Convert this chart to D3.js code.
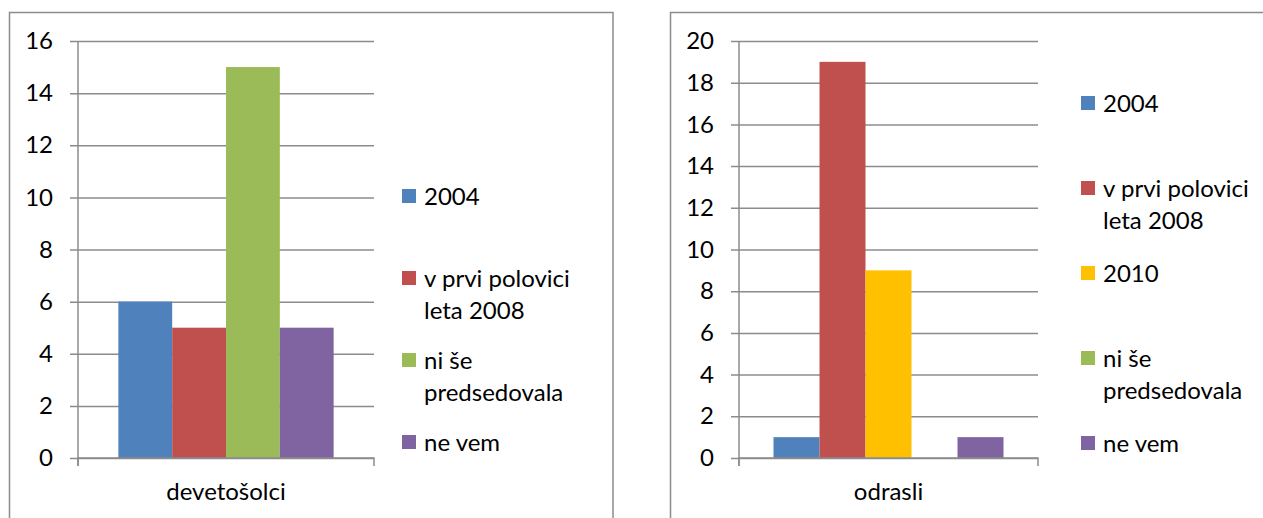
<!DOCTYPE html>
<html><head><meta charset="utf-8">
<script src="https://cdn.jsdelivr.net/npm/d3@7"></script>
<style>
html,body{margin:0;padding:0;background:#fff;}
svg{display:block;font-family:Lato, "Open Sans", sans-serif;}
</style></head>
<body>
<svg id="c" width="1263" height="518"></svg>
<script>
// ---- data ----
const leftCategory = ["devetošolci"];
const leftSeries = ["2004", "v prvi polovici|leta 2008", "ni še|predsedovala", "ne vem"];
const leftValues = [6, 5, 15, 5];
const leftColors = ["#4F81BD", "#C0504D", "#9BBB59", "#8064A2"];
const leftTicks = [0, 2, 4, 6, 8, 10, 12, 14, 16];

const rightCategory = ["odrasli"];
const rightSeries = ["2004", "v prvi polovici|leta 2008", "2010", "ni še|predsedovala", "ne vem"];
const rightValues = [1, 19, 9, 0, 1];
const rightColors = ["#4F81BD", "#C0504D", "#FFC000", "#9BBB59", "#8064A2"];
const rightTicks = [0, 2, 4, 6, 8, 10, 12, 14, 16, 18, 20];

const svg = d3.select("#c");
const FS = 24;

function drawChart(o) {
  const g = svg.append("g");
  // frame
  g.append("rect").attr("x", o.frame[0]).attr("y", o.frame[1])
    .attr("width", o.frame[2]).attr("height", o.frame[3])
    .attr("fill", "none").attr("stroke", "#8c8c8c").attr("stroke-width", 1.5);

  const y = d3.scaleLinear().domain([0, d3.max(o.ticks)]).range([o.y0, o.y1]);
  const x0 = d3.scaleBand().domain(o.category).range([o.x0, o.x1]).paddingInner(0).paddingOuter(0);
  const bandW = x0.bandwidth();
  const n = o.series.length;
  const barW = bandW / (n + o.gap);
  const x1 = d3.scaleBand().domain(o.series).range([0, barW * n]);

  // gridlines + y ticks
  const yAxis = d3.axisLeft(y).tickValues(o.ticks).tickSize(-(o.x1 - o.x0)).tickSizeOuter(0).tickPadding(25);
  const ya = g.append("g").attr("transform", `translate(${o.x0},0)`).call(yAxis);
  ya.select(".domain").remove();
  ya.selectAll(".tick line").attr("stroke", "#8c8c8c").attr("stroke-width", 1.5).attr("x1", -8);
  ya.selectAll(".tick text").attr("font-size", FS).attr("fill", "#000").attr("font-family", "Lato");

  // bars
  const bars = g.append("g").attr("transform", `translate(${x0(o.category[0]) + barW * o.gap / 2},0)`);
  bars.selectAll("rect").data(o.values).join("rect")
    .attr("x", (d, i) => x1(o.series[i]))
    .attr("width", x1.bandwidth())
    .attr("y", d => y(d))
    .attr("height", d => y(0) - y(d))
    .attr("fill", (d, i) => o.colors[i]);

  // y axis line
  g.append("line").attr("x1", o.x0).attr("x2", o.x0).attr("y1", o.y1).attr("y2", o.y0 + 8)
    .attr("stroke", "#8c8c8c").attr("stroke-width", 1.5);
  // x axis
  const xAxis = d3.axisBottom(x0).tickSize(0).tickPadding(25);
  const xa = g.append("g").attr("transform", `translate(0,${o.y0})`).call(xAxis);
  xa.select(".domain").attr("stroke", "#8c8c8c").attr("stroke-width", 1.5)
    .attr("d", `M${o.x0},8V0H${o.x1}V8`);
  xa.selectAll(".tick text").attr("font-size", FS).attr("fill", "#000").attr("font-family", "Lato");

  // legend
  const ly = d3.scalePoint().domain(o.series).range(o.legendY);
  const leg = g.append("g");
  o.series.forEach((s, i) => {
    const cy = ly(s);
    leg.append("rect").attr("x", o.legendX).attr("y", cy - 7).attr("width", 14).attr("height", 14)
      .attr("fill", o.colors[i]);
    const lines = s.split("|");
    const t = leg.append("text").attr("x", o.legendX + 22).attr("y", cy)
      .attr("font-size", FS).attr("fill", "#000");
    lines.forEach((ln, k) => {
      t.append("tspan").attr("x", o.legendX + 22).attr("dy", k === 0 ? "0.36em" : 32).text(ln);
    });
  });
}

drawChart({
  frame: [9.5, 12.5, 603.5, 520],
  category: leftCategory, series: leftSeries, values: leftValues, colors: leftColors, ticks: leftTicks,
  x0: 78, x1: 374, y0: 458, y1: 41, gap: 1.5,
  legendX: 402, legendY: [196, 442]
});
drawChart({
  frame: [670.5, 12.5, 620, 520],
  category: rightCategory, series: rightSeries, values: rightValues, colors: rightColors, ticks: rightTicks,
  x0: 739, x1: 1038, y0: 458, y1: 41, gap: 1.5,
  legendX: 1081, legendY: [103, 443]
});
</script>
</body></html>
